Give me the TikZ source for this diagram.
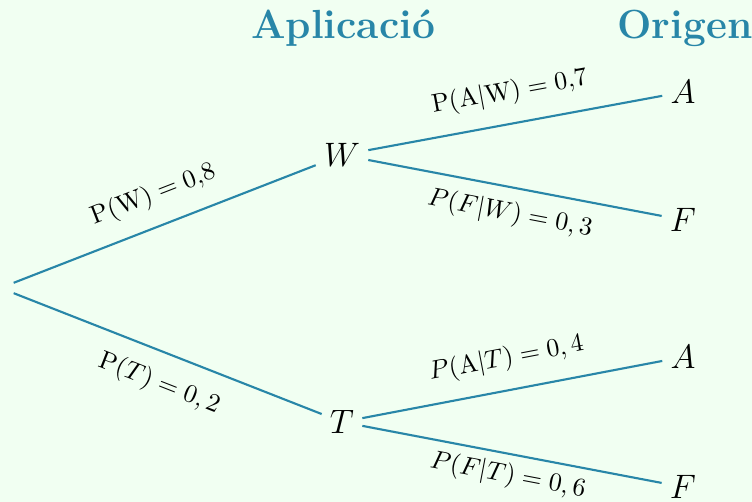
\documentclass[tikz,border=0pt]{standalone}
\usepackage{fontspec}
\definecolor{bgmint}{RGB}{241,255,242}
\definecolor{teal1}{RGB}{40,134,168}
\begin{document}
\begin{tikzpicture}[x=0.425pt,y=-0.425pt,
  branch/.style={draw=teal1,line width=0.9pt},
  leaf/.style={font=\Large},
  hdr/.style={font=\LARGE\bfseries,text=teal1},
  lab/.style={sloped,font=\fontsize{10.9}{13}\selectfont}]
\fill[bgmint] (0,0) rectangle (752,502);
\useasboundingbox (0,0) rectangle (752,502);
\node[hdr] (h1) at (343,28) {Aplicació};
\node[hdr] (h2) at (685,28) {Origen};
\node[inner sep=0pt,minimum width=1pt,minimum height=4pt] (r) at (12,288) {};
\node[leaf] (W) at (342,155) {$W$};
\node[leaf] (T) at (342,422) {$T$};
\node[leaf] (A1) at (683,92) {$A$};
\node[leaf] (F1) at (683,220) {$F$};
\node[leaf] (A2) at (683,357) {$A$};
\node[leaf] (F2) at (683,487) {$F$};
\draw[branch] (r.north east) -- node[lab,above=4pt,pos=0.5] (l1) {$\mathrm{P}(\mathrm{W}) = 0{,}8$} (W);
\draw[branch] (r.south east) -- node[lab,below=4pt,pos=0.51] (l2) {$\mathrm{P}(T) = 0,2$} (T);
\draw[branch] (W) -- node[lab,above=4pt,pos=0.5] (l3) {$\mathrm{P}(\mathrm{A}|\mathrm{W}) = 0{,}7$} (A1);
\draw[branch] (W) -- node[lab,below=2pt,pos=0.5] (l4) {$P(F|W) = 0,3$} (F1);
\draw[branch] (T) -- node[lab,above=4pt,pos=0.5] (l5) {$P(\mathrm{A}|T) = 0,4$} (A2);
\draw[branch] (T) -- node[lab,below=0pt,pos=0.5] (l6) {$P(F|T) = 0,6$} (F2);
\end{tikzpicture}
\end{document}
